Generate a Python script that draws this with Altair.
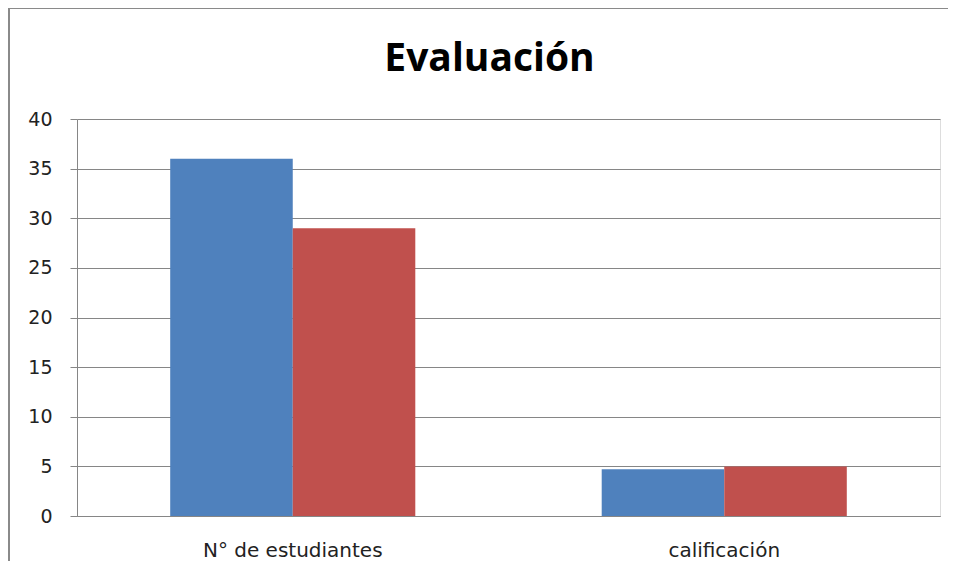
import altair as alt
import pandas as pd

categories = ["N° de estudiantes", "calificación"]
series_names = ["Serie1", "Serie2"]
serie1 = [36, 4.7]
serie2 = [29, 5]
y_ticks = [0, 5, 10, 15, 20, 25, 30, 35, 40]
colors = ["#4F81BD", "#C0504D"]

rows = []
for i, c in enumerate(categories):
    rows.append({"categoria": c, "serie": series_names[0], "valor": serie1[i]})
    rows.append({"categoria": c, "serie": series_names[1], "valor": serie2[i]})
df = pd.DataFrame(rows)

W, H = 863, 397
PL, PT, PR, PB = 69, 111, 8, 45
FONT = "DejaVu Sans"

bars = alt.Chart(df).mark_bar(stroke=None).encode(
    x=alt.X("categoria:N", sort=categories, title=None,
            scale=alt.Scale(paddingInner=0.432, paddingOuter=0.216),
            axis=alt.Axis(labelAngle=0, ticks=False, domainColor="#868686",
                          domainWidth=1, labelPadding=24, labelFontSize=20,
                          labelColor="#222222", labelFont=FONT)),
    xOffset=alt.XOffset("serie:N", sort=series_names,
                        scale=alt.Scale(paddingInner=0, paddingOuter=0)),
    y=alt.Y("valor:Q", title=None,
            scale=alt.Scale(domain=[0, 40], nice=False),
            axis=alt.Axis(values=y_ticks, tickSize=7, tickColor="#868686",
                          domainColor="#868686", gridColor="#868686",
                          gridWidth=1, labelPadding=18, labelFontSize=19,
                          labelColor="#222222", labelFont=FONT)),
    color=alt.Color("serie:N", sort=series_names, legend=None,
                    scale=alt.Scale(domain=series_names, range=colors)),
)

border = alt.Chart(alt.Data(values=[{}])).mark_rect(
    fill=None, stroke="#8a8a8a", strokeWidth=2
).encode(
    x=alt.value(-PL + 1), x2=alt.value(W + PR + 20),
    y=alt.value(-PT), y2=alt.value(H + PB + 20),
)

chart = alt.layer(bars, border).properties(
    width=W, height=H,
    title=alt.TitleParams("Evaluación", font="Open Sans", fontSize=39,
                          fontWeight="bold", color="#000000",
                          anchor="middle", offset=-72, dx=-19),
    padding={"left": PL, "top": PT, "right": PR, "bottom": PB},
    autosize=alt.AutoSizeParams(type="none"),
).configure_view(stroke=None).configure(background="white")

chart.save("out.html", embed_options={"renderer": "svg", "actions": False})
